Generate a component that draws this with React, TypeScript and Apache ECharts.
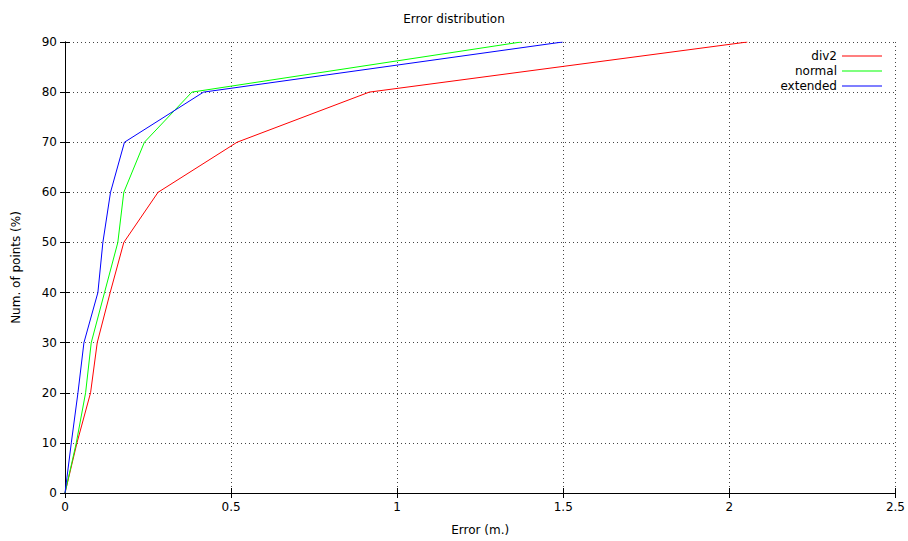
import React, { useEffect, useRef } from "react";
import * as echarts from "echarts";

const percentiles = [0, 10, 20, 30, 40, 50, 60, 70, 80, 90];
const div2Errors = [0, 0.036, 0.077, 0.097, 0.136, 0.177, 0.28, 0.518, 0.916, 2.054];
const normalErrors = [0, 0.034, 0.062, 0.079, 0.119, 0.159, 0.177, 0.239, 0.382, 1.373];
const extendedErrors = [0, 0.019, 0.039, 0.057, 0.099, 0.114, 0.137, 0.179, 0.417, 1.498];

const seriesNames = ["div2", "normal", "extended"];
const seriesColors = ["#ff0000", "#00ff00", "#0000ff"];
const seriesValues = [div2Errors, normalErrors, extendedErrors];

const FONT = "DejaVu Sans";

export default function App() {
  const ref = useRef<HTMLDivElement>(null);
  useEffect(() => {
    if (!ref.current) return;
    const chart = echarts.init(ref.current, undefined, { renderer: "svg" });
    const axisLine = { show: true, lineStyle: { color: "#000", width: 1 } };
    const tick = { show: true, inside: true, length: 5, lineStyle: { color: "#000" } };
    const split = { show: true, lineStyle: { color: "#444", type: [1, 3], width: 1 } };
    const label = { color: "#000", fontFamily: FONT, fontSize: 12 };
    chart.setOption({
      animation: false,
      backgroundColor: "#fff",
      textStyle: { fontFamily: FONT },
      title: {
        text: "Error distribution",
        left: "center",
        top: 8,
        textStyle: { fontFamily: FONT, fontSize: 12, fontWeight: "normal", color: "#000" },
      },
      legend: seriesNames.map((n, i) => ({
        data: [n],
        right: 26,
        top: 50 + i * 15,
        align: "right",
        icon: "rect",
        itemWidth: 40,
        itemHeight: 1.2,
        itemGap: 5,
        padding: 0,
        textStyle: { fontFamily: FONT, fontSize: 12, color: "#000" },
      })),
      grid: { left: 65, right: 12, top: 42, bottom: 45 },
      xAxis: [
        {
          type: "value",
          min: 0,
          max: 2.5,
          interval: 0.5,
          name: "Error (m.)",
          nameLocation: "middle",
          nameGap: 31,
          nameTextStyle: { fontFamily: FONT, fontSize: 12, color: "#000" },
          axisLine,
          axisTick: tick,
          splitLine: split,
          axisLabel: { ...label, margin: 8 },
        },
        {
          type: "value",
          position: "top",
          min: 0,
          max: 2.5,
          interval: 0.5,
          axisLine,
          axisTick: tick,
          splitLine: { show: false },
          axisLabel: { show: false },
        },
      ],
      yAxis: [
        {
          type: "value",
          min: 0,
          max: 90,
          interval: 10,
          name: "Num. of points (%)",
          nameLocation: "middle",
          nameGap: 43,
          nameTextStyle: { fontFamily: FONT, fontSize: 12, color: "#000" },
          axisLine,
          axisTick: tick,
          splitLine: split,
          axisLabel: { ...label, margin: 8 },
        },
        {
          type: "value",
          position: "right",
          min: 0,
          max: 90,
          interval: 10,
          axisLine,
          axisTick: tick,
          splitLine: { show: false },
          axisLabel: { show: false },
        },
      ],
      series: seriesNames.map((n, i) => ({
        name: n,
        type: "line",
        symbol: "none",
        showSymbol: false,
        color: seriesColors[i],
        lineStyle: { color: seriesColors[i], width: 1 },
        data: seriesValues[i].map((v, j) => [v, percentiles[j]]),
      })),
    });
    return () => chart.dispose();
  }, []);
  return <div ref={ref} style={{ width: 908, height: 541, position: "absolute", left: 0, top: 0 }} />;
}
